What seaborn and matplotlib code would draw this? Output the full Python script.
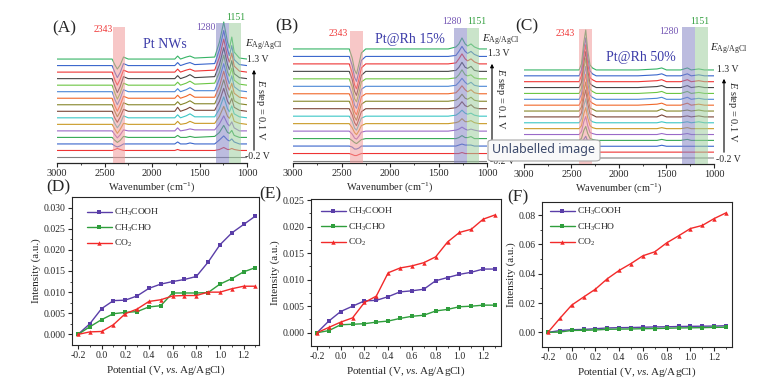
import matplotlib
matplotlib.use('Agg')
import matplotlib.pyplot as plt
from matplotlib.patches import FancyBboxPatch
import seaborn as sns
import numpy as np

# potentials (V vs. Ag/AgCl), -0.2 V first
potential = [-0.2, -0.1, 0.0, 0.1, 0.2, 0.3, 0.4, 0.5, 0.6, 0.7, 0.8, 0.9, 1.0, 1.1, 1.2, 1.3]

# (D) Pt NWs
d_ch3cooh = [0, 0.0025, 0.0061, 0.0080, 0.0081, 0.0091, 0.0109, 0.0119, 0.0125, 0.0130, 0.0137, 0.0171, 0.0212, 0.0240, 0.0260, 0.0280]
d_ch3cho = [0, 0.0018, 0.0035, 0.0049, 0.0052, 0.0054, 0.0065, 0.0068, 0.0098, 0.0098, 0.0098, 0.0099, 0.0119, 0.0132, 0.0148, 0.0158]
d_co2 = [0, 0.0006, 0.0007, 0.0023, 0.0049, 0.0060, 0.0078, 0.0082, 0.0091, 0.0092, 0.0092, 0.0100, 0.0100, 0.0108, 0.0114, 0.0114]

# (E) Pt@Rh 15%
e_ch3cooh = [0, 0.0022, 0.0040, 0.0050, 0.0060, 0.0061, 0.0068, 0.0077, 0.0079, 0.0082, 0.0098, 0.0104, 0.0110, 0.0114, 0.0120, 0.0120]
e_ch3cho = [0, 0.0004, 0.0015, 0.0016, 0.0017, 0.0020, 0.0022, 0.0027, 0.0031, 0.0033, 0.0041, 0.0044, 0.0049, 0.0050, 0.0052, 0.0052]
e_co2 = [0, 0.0010, 0.0020, 0.0028, 0.0057, 0.0069, 0.0113, 0.0122, 0.0126, 0.0132, 0.0143, 0.0171, 0.0189, 0.0195, 0.0214, 0.0222]

# (F) Pt@Rh 50%
f_ch3cooh = [0, 0.0012, 0.0018, 0.0020, 0.0025, 0.0030, 0.0032, 0.0033, 0.0035, 0.0037, 0.0038, 0.0040, 0.0041, 0.0042, 0.0043, 0.0045]
f_ch3cho = [0, 0.0002, 0.0013, 0.0014, 0.0016, 0.0021, 0.0022, 0.0023, 0.0025, 0.0026, 0.0028, 0.0030, 0.0031, 0.0032, 0.0034, 0.0035]
f_co2 = [0, 0.0095, 0.0186, 0.0241, 0.0295, 0.0366, 0.0423, 0.0470, 0.0523, 0.0550, 0.0611, 0.0659, 0.0709, 0.0730, 0.0777, 0.0816]

# spectra (A): wavenumbers and intensity (stack units) for each potential, -0.2 V first
spec_a_wn = [3000, 2420, 2390, 2365, 2335, 2300, 2250, 1760, 1730, 1700, 1640, 1600, 1550,
             1340, 1290, 1245, 1205, 1185, 1160, 1135, 1080, 1000]
spec_a = [
    [0, 0, 0, 0, 0, 0, 0, 0, 0, 0, 0, 0, 0, 0, 0, 0, 0, 0, 0, 0, 0, 0],
    [0, 0, 1, 2, 1, 0, 0, 0, 1, 0, 0, 0, 0, 0, 1, 3, 1, 1, 2, 1, 0, 0],
    [0, 0, -2, -3, -2, 0, 0, 0, 2, 0, 0, 1, 0, 0, 4, 8, 4, 3, 5, 2, 0, 0],
    [0, 0, -3, -5, -3, 1, 0, 0, 2, 0, 0, 1, 0, 1, 5, 12, 5, 4, 7, 2, 0, 0],
    [0, 0, -4, -7, -4, 1, 0, 0, 3, 0, 1, 2, 1, 1, 7, 15, 7, 5, 9, 3, 0, 0],
    [0, 0, -5, -9, -5, 1, 0, 0, 3, 0, 1, 3, 1, 1, 8, 18, 8, 6, 11, 3, 1, 0],
    [0, 0, -6, -10, -6, 2, 0, 0, 3, 0, 2, 4, 1, 1, 9, 21, 9, 6, 12, 4, 1, 0],
    [0, 0, -7, -11, -6, 2, 0, 0, 4, 0, 2, 4, 1, 1, 10, 23, 10, 7, 13, 4, 1, 0],
    [0, 0, -7, -12, -7, 2, 0, 0, 3, 0, 2, 4, 1, 1, 11, 25, 11, 7, 14, 4, 1, 0],
    [0, 0, -8, -13, -7, 2, 0, 0, 3, 0, 2, 4, 1, 1, 12, 27, 12, 8, 15, 5, 1, 0],
    [0, 0, -8, -13, -7, 2, 0, 0, 3, 0, 2, 4, 1, 1, 13, 28, 13, 8, 16, 5, 1, 0],
    [0, 0, -8, -14, -8, 2, 0, 0, 3, 0, 2, 4, 1, 2, 13, 30, 13, 9, 17, 5, 1, 0],
    [0, 0, -8, -14, -8, 2, 0, 0, 3, 0, 2, 4, 1, 2, 14, 31, 14, 9, 18, 5, 1, 0],
    [0, 0, -8, -13, -7, 2, 0, 0, 3, 0, 2, 3, 1, 2, 15, 33, 15, 10, 19, 6, 1, 0],
    [0, 0, -7, -12, -7, 2, 0, 0, 3, 0, 2, 3, 1, 2, 16, 35, 16, 10, 20, 6, 1, 0],
    [0, 0, -6, -10, -6, 2, 0, 0, 3, 0, 2, 3, 1, 2, 17, 37, 17, 11, 22, 7, 1, 0],
]

# spectra (B)
spec_b_wn = [3000, 2600, 2420, 2390, 2365, 2345, 2320, 2295, 2250, 1800, 1400, 1320, 1290,
             1258, 1225, 1200, 1165, 1130, 1080, 1000]
spec_b = [
    [0, 0, 0, 0, 0, 0, 0, 0, 0, 0, 0, 0, 0, 0, 0, 0, 0, 0, 0, 0],
    [0, 0, 0, -1, -2, -2, -1, 0, 0, 0, 0, 0, 0, 1, 0, 0, 0, 0, 0, 0],
    [0, 0, 0, -1, -3, -3, -2, 0, 0, 0, 0, 0, 1, 2, 1, 1, 1, 0, 0, 0],
    [0, 0, 0, -2, -4, -5, -3, -1, 0, 0, 0, 0, 1, 3, 1, 1, 2, 0, 0, 0],
    [0, 0, 0, -3, -7, -8, -5, -1, 0, 0, 0, 1, 2, 4, 2, 1, 2, 1, 0, 0],
    [0, 0, 0, -4, -9, -11, -7, -2, 0, 0, 0, 1, 2, 5, 2, 2, 3, 1, 0, 0],
    [0, 0, 0, -5, -12, -14, -8, -2, 0, 0, 0, 1, 3, 6, 3, 2, 3, 1, 0, 0],
    [0, 0, 0, -6, -14, -17, -10, -3, 0, 0, 0, 1, 3, 7, 3, 2, 4, 1, 0, 0],
    [0, 0, 0, -7, -16, -19, -11, -3, 0, 0, 0, 1, 3, 7, 3, 2, 4, 1, 0, 0],
    [0, 0, 0, -7, -18, -21, -13, -3, 0, 0, 0, 1, 4, 8, 4, 2, 4, 1, 0, 0],
    [0, 0, 0, -8, -19, -22, -13, -3, 0, 0, 0, 1, 4, 8, 4, 2, 4, 1, 0, 0],
    [0, 0, 0, -8, -20, -23, -14, -3, 0, 0, 0, 1, 4, 9, 4, 3, 4, 1, 0, 0],
    [0, 0, 0, -8, -20, -24, -14, -4, 0, 0, 0, 1, 4, 9, 4, 3, 5, 1, 0, 0],
    [0, 0, 0, -9, -21, -25, -15, -4, 0, 0, 0, 1, 5, 10, 5, 3, 5, 2, 0, 0],
    [0, 0, 0, -9, -21, -25, -15, -4, 0, 0, 0, 1, 5, 10, 5, 3, 5, 2, 0, 0],
    [0, 0, 0, -9, -21, -25, -15, -4, 0, 0, 0, 2, 5, 11, 5, 3, 5, 2, 0, 0],
]

# spectra (C)
spec_c_wn = [3000, 2600, 2420, 2395, 2370, 2350, 2330, 2305, 2280, 2240, 1800, 1600, 1550,
             1500, 1350, 1280, 1240, 1160, 1100, 1000]
spec_c = [
    [0, 0, 0, 0, 2, 3, 1, 0, 0, 0, 0, 0, 0, 0, 0, 0, 0, 0, 0, 0],
    [0, 0, 0, 1, 4, 6, 3, 1, 0, 0, 0, 0, 0, 0, 0, 0, 0, 0, 0, 0],
    [0, 0, 0, 1, 7, 10, 5, 1, 1, 0, 0, 0, 1, 0, 0, 0, 0, 0, 0, 0],
    [0, 0, 0, 2, 10, 14, 7, 2, 1, 0, 0, 0, 1, 0, 0, 1, 0, 0, 0, 0],
    [0, 0, 0, 3, 13, 18, 9, 2, 1, 0, 0, 0, 1, 0, 0, 1, 0, 0, 0, 0],
    [0, 0, 0, 3, 15, 21, 11, 3, 1, 0, 0, 0, 1, 0, 0, 1, 0, 0, 0, 0],
    [0, 0, 0, 4, 17, 24, 12, 3, 1, 0, 0, 0, 1, 0, 0, 1, 0, 1, 0, 0],
    [0, 0, 0, 4, 19, 27, 14, 3, 2, 0, 0, 0, 2, 0, 0, 1, 0, 1, 0, 0],
    [0, 0, 0, 4, 20, 29, 15, 3, 2, 0, 0, 0, 2, 0, 0, 1, 0, 1, 0, 0],
    [0, 0, 0, 5, 22, 31, 16, 4, 2, 0, 0, 1, 2, 0, 0, 2, 0, 1, 0, 0],
    [0, 0, 0, 5, 23, 33, 17, 4, 2, 0, 0, 1, 2, 0, 0, 2, 0, 1, 0, 0],
    [0, 0, 0, 5, 25, 35, 18, 4, 2, 0, 0, 1, 2, 0, 0, 2, 0, 1, 0, 0],
    [0, 0, 0, 5, 25, 36, 18, 4, 2, 0, 0, 1, 2, 0, 0, 2, 0, 1, 0, 0],
    [0, 0, 0, 6, 26, 37, 19, 4, 2, 0, 0, 1, 2, 0, 0, 2, 0, 1, 0, 0],
    [0, 0, 0, 6, 27, 38, 19, 5, 2, 0, 0, 1, 2, 0, 0, 2, 0, 1, 0, 0],
    [0, 0, 0, 6, 28, 40, 20, 5, 2, 0, 0, 1, 2, 0, 0, 2, 0, 1, 0, 0],
]

# shaded bands (cm-1): 2343, 1280, 1151
bands_a = [(2410, 2285), (1326, 1190), (1190, 1065)]
bands_b = [(2412, 2278), (1340, 1206), (1206, 1080)]
bands_c = [(2426, 2289), (1332, 1195), (1195, 1068)]

spec_colors = ['#808080', '#ee3535', '#3a66cc', '#35a855', '#9a6ac8', '#c99a26', '#3cc6c6', '#7a4536',
               '#86862a', '#f0682a', '#4a86d6', '#6cc644', '#454545', '#ee3535', '#3a66cc', '#36b466']
band_colors = ['#f29a9a', '#8585c6', '#9fcf9f']
mol_colors = {'CH3COOH': '#5a3ea8', 'CH3CHO': '#2f9e3c', 'CO2': '#f22a2a'}

W, H = 783, 379
sns.set_style('ticks')
plt.rcParams['font.family'] = ['Liberation Serif', 'DejaVu Serif']
plt.rcParams['mathtext.fontset'] = 'custom'
plt.rcParams['mathtext.rm'] = 'Liberation Serif'
plt.rcParams['mathtext.it'] = 'Liberation Serif:italic'
plt.rcParams['mathtext.bf'] = 'Liberation Serif:bold'

fig = plt.figure(figsize=(W / 100, H / 100), dpi=100)


def add_ax(x0, y0, x1, y1):
    # pixel box (top-left origin) -> figure axes
    return fig.add_axes([x0 / W, 1 - y1 / H, (x1 - x0) / W, (y1 - y0) / H])


def ftext(x, y, s, **kw):
    kw.setdefault('ha', 'center')
    kw.setdefault('va', 'center')
    fig.text(x / W, 1 - y / H, s, **kw)


def spectra(box, wn, rows, base0, step, bands, band_tops):
    x0, y0, x1, y1 = box
    ax = add_ax(*box)
    hpx = y1 - y0
    for i, row in enumerate(rows):
        y = np.array(row, dtype=float) + base0 + i * step
        sns.lineplot(x=wn, y=y, color=spec_colors[i], lw=0.8, ax=ax, sort=False)
    for (lo, hi), col, top in zip(bands, band_colors, band_tops):
        ax.axvspan(hi, lo, ymin=0, ymax=(y1 - top) / hpx, color=col, alpha=0.55, lw=0, zorder=3)
    ax.set_xlim(3000, 1000)
    ax.set_ylim(0, hpx)
    for s in ['left', 'right', 'top']:
        ax.spines[s].set_visible(False)
    ax.spines['bottom'].set_linewidth(0.9)
    ax.set_yticks([])
    ax.set_xticks([3000, 2500, 2000, 1500, 1000])
    ax.set_xticks([2750, 2250, 1750, 1250], minor=True)
    ax.tick_params(axis='x', which='major', direction='out', length=3, width=0.8, labelsize=7.5, pad=1.5)
    ax.tick_params(axis='x', which='minor', direction='out', length=1.5, width=0.6)
    ax.set_xlabel('Wavenumber (cm$^{-1}$)', fontsize=7.5, labelpad=1)
    ax.set_ylabel('')
    return ax


spectra((57, 20, 247, 163), spec_a_wn, spec_a, 6, 6.53, bands_a, [27, 23, 23])
spectra((293, 20, 487, 163), spec_b_wn, spec_b, 2, 7.47, bands_b, [31, 28, 28])
spectra((524, 20, 714, 164), spec_c_wn, spec_c, 6, 5.87, bands_c, [29, 27, 27])

# top annotations
red_t, pur_t, grn_t, name_t = '#f03c3c', '#7456b4', '#2f9e3c', '#3b3ba8'
for (lab, lx, ly), (nx, ny), nm, (bx, by), (px_, py_), (gx, gy), (ex, ey), (vx, vy), (mx, my), (sx, sy), (ax_, a0, a1) in [
    (('(A)', 64, 28), (103, 29), 'Pt NWs', (206, 27), (236, 18), (165, 44), (245, 45), (258, 60), (257, 157), (261, 110), (254, 153, 67)),
    (('(B)', 287, 26), (338, 34), 'Pt@Rh 15%', (452, 22), (477, 22), (410, 39), (482, 40), (499, 54), (502, 161), (500, 99), (492, 157, 61)),
    (('(C)', 527, 26), (565, 33), 'Pt@Rh 50%', (669, 32), (700, 22), (641, 57), (710, 49), (728, 70), (728, 159), (732, 112), (724, 155, 76)),
]:
    ftext(lx, ly, lab, fontsize=12.5)
    ftext(nx, ny, '2343', fontsize=7, color=red_t)
    ftext(bx, by, '1280', fontsize=7, color=pur_t)
    ftext(px_, py_, '1151', fontsize=7, color=grn_t)
    ftext(gx, gy, nm, fontsize=10, color=name_t)
    ftext(ex, ey, r'$E_{\rm Ag/AgCl}$', fontsize=8, ha='left')
    ftext(vx, vy, '1.3 V', fontsize=7)
    ftext(mx, my, '-0.2 V', fontsize=7)
    ftext(sx, sy, r'$E$ step = 0.1 V', fontsize=7.5, rotation=-90)
    fig.add_artist(matplotlib.patches.FancyArrowPatch(
        (ax_ / W, 1 - a0 / H), (ax_ / W, 1 - a1 / H), transform=fig.transFigure,
        arrowstyle='-|>', mutation_scale=5, lw=0.8, color='black'))


def trend(box, ch3cooh, ch3cho, co2, xlim, ylim, yticks, yfmt, leg_xy):
    ax = add_ax(*box)
    for vals, lab, key, mk in [(ch3cooh, 'CH$_3$COOH', 'CH3COOH', 's'),
                               (ch3cho, 'CH$_3$CHO', 'CH3CHO', 's'),
                               (co2, 'CO$_2$', 'CO2', '^')]:
        sns.lineplot(x=potential, y=vals, color=mol_colors[key], marker=mk, markersize=3.2,
                     markeredgewidth=0, lw=1.0, label=lab, ax=ax)
    ax.set_xlim(*xlim)
    ax.set_ylim(*ylim)
    ax.set_xticks([-0.2, 0.0, 0.2, 0.4, 0.6, 0.8, 1.0, 1.2])
    ax.set_xticks([-0.1, 0.1, 0.3, 0.5, 0.7, 0.9, 1.1, 1.3], minor=True)
    ax.set_xticklabels(['-0.2', '0.0', '0.2', '0.4', '0.6', '0.8', '1.0', '1.2'])
    ax.set_yticks(yticks)
    ax.set_yticks([(a + b) / 2 for a, b in zip(yticks[:-1], yticks[1:])], minor=True)
    ax.set_yticklabels([yfmt.format(v) for v in yticks])
    ax.tick_params(which='major', direction='out', length=3, width=0.8, labelsize=7, pad=1.5)
    ax.tick_params(which='minor', direction='out', length=1.5, width=0.6)
    for s in ax.spines.values():
        s.set_linewidth(0.8)
    ax.set_xlabel(r'Potential (V, $\it{vs.}$Ag/AgCl)', fontsize=8, labelpad=2)
    ax.set_ylabel('Intensity (a.u.)', fontsize=8, labelpad=2)
    lx, ly = leg_xy
    ax.legend(loc='upper left', bbox_to_anchor=(lx / W, 1 - ly / H), bbox_transform=fig.transFigure,
              frameon=False, fontsize=6.8, handlelength=2.6, handletextpad=0.3,
              labelspacing=0.45, borderpad=0, borderaxespad=0)
    return ax


trend((72, 197, 259, 345), d_ch3cooh, d_ch3cho, d_co2, (-0.25, 1.33), (-0.0025, 0.0325),
      [0, 0.005, 0.010, 0.015, 0.020, 0.025, 0.030], '{:.3f}', (87, 207))
trend((311, 199, 501, 346), e_ch3cooh, e_ch3cho, e_co2, (-0.25, 1.35), (-0.0025, 0.0252),
      [0, 0.005, 0.010, 0.015, 0.020, 0.025], '{:.3f}', (321, 206))
trend((542, 202, 732, 347), f_ch3cooh, f_ch3cho, f_co2, (-0.25, 1.35), (-0.01, 0.089),
      [0, 0.02, 0.04, 0.06, 0.08], '{:.2f}', (550, 206))

ftext(58, 187, '(D)', fontsize=12.5)
ftext(270, 194, '(E)', fontsize=12.5)
ftext(518, 197, '(F)', fontsize=12.5)

# screenshot tooltip overlay
tip = FancyBboxPatch((488 / W, 1 - 161 / H), 112 / W, 21 / H, transform=fig.transFigure,
                     boxstyle='round,pad=0,rounding_size=0.006', fc='#f9f9f9', ec='#a8a8a8', lw=0.8, zorder=10)
fig.add_artist(tip)
fig.text(544 / W, 1 - 150 / H, 'Unlabelled image', ha='center', va='center', fontsize=9,
         family='Noto Sans', color='#3c4a6c', zorder=11)

fig.savefig('out.png', dpi=100)
